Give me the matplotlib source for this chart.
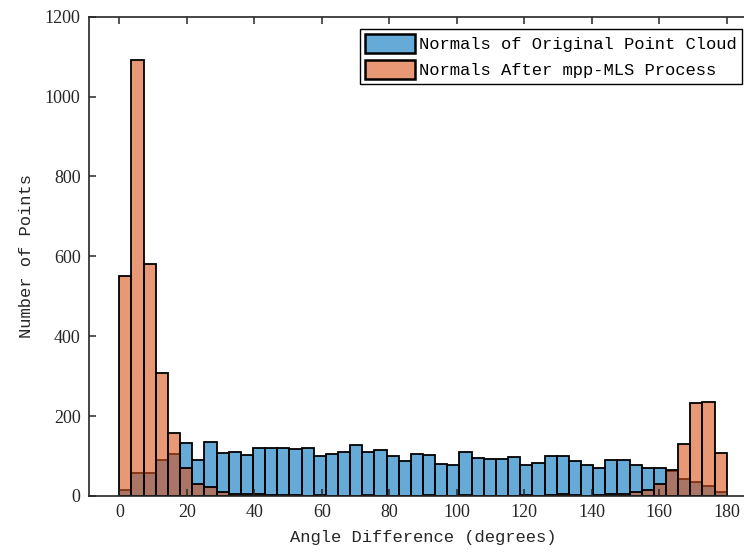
import numpy as np
import matplotlib
matplotlib.use("Agg")
import matplotlib.pyplot as plt

# histogram counts, 50 bins of 3.6 degrees from 0 to 180
bin_width = 3.6
bin_edges = np.arange(50) * bin_width

original_counts = [14, 57, 57, 89, 106, 132, 90, 136, 107, 111,
                   103, 120, 120, 120, 117, 119, 100, 104, 110, 127,
                   110, 114, 99, 87, 105, 103, 81, 77, 110, 96,
                   93, 93, 97, 78, 83, 99, 101, 88, 77, 69,
                   90, 90, 78, 71, 70, 63, 43, 36, 25, 10]

mls_counts = [551, 1091, 581, 307, 157, 70, 29, 23, 11, 6,
              5, 4, 3, 2, 2, 1, 2, 1, 1, 1,
              2, 1, 1, 1, 1, 2, 1, 1, 2, 1,
              1, 1, 1, 2, 1, 3, 4, 2, 1, 2,
              4, 4, 10, 15, 31, 66, 130, 232, 236, 108]

labels = ['Normals of Original Point Cloud', 'Normals After mpp-MLS Process']
x_ticks = np.arange(0, 181, 20)
y_ticks = np.arange(0, 1201, 200)

blue = (0.0, 0.447, 0.741, 0.6)
orange = (0.851, 0.325, 0.098, 0.6)

fig = plt.figure(figsize=(7.44, 5.56), dpi=100)
ax = fig.add_axes([0.1196, 0.108, 0.898, 0.862])

ax.bar(bin_edges, original_counts, width=bin_width, align='edge',
       color=blue, edgecolor='black', linewidth=1.3, label=labels[0])
ax.bar(bin_edges, mls_counts, width=bin_width, align='edge',
       color=orange, edgecolor='black', linewidth=1.3, label=labels[1])

ax.set_xlim(-9, 189)
ax.set_ylim(0, 1200)
ax.set_xticks(x_ticks)
ax.set_yticks(y_ticks)

for lab in ax.get_xticklabels() + ax.get_yticklabels():
    lab.set_fontfamily('Liberation Serif')
    lab.set_fontsize(13)
    lab.set_color('#262626')

ax.tick_params(direction='in', length=5, width=1.1, top=True, right=True,
               color='#262626', pad=6)
for sp in ax.spines.values():
    sp.set_linewidth(1.2)
    sp.set_color('#262626')

ax.set_xlabel('Angle Difference (degrees)', family='Liberation Mono',
              fontsize=12.3, color='#262626', labelpad=6)
ax.set_ylabel('Number of Points', family='Liberation Mono',
              fontsize=12.3, color='#262626', labelpad=8)

# legend sits inside the visible part of the figure (axes runs past the right edge)
leg = ax.legend(loc='upper right', bbox_to_anchor=(742 / 744, 1 - 29 / 556),
                bbox_transform=fig.transFigure,
                prop={'family': 'Liberation Mono', 'size': 12.3},
                fancybox=False, framealpha=1, edgecolor='black',
                handlelength=2.9, handleheight=1.3, handletextpad=0.25,
                borderpad=0.3, labelspacing=0.45, borderaxespad=0)
leg.get_frame().set_linewidth(1.0)
for h in leg.legend_handles:
    h.set_linewidth(1.8)

fig.savefig('out.png', dpi=100)
